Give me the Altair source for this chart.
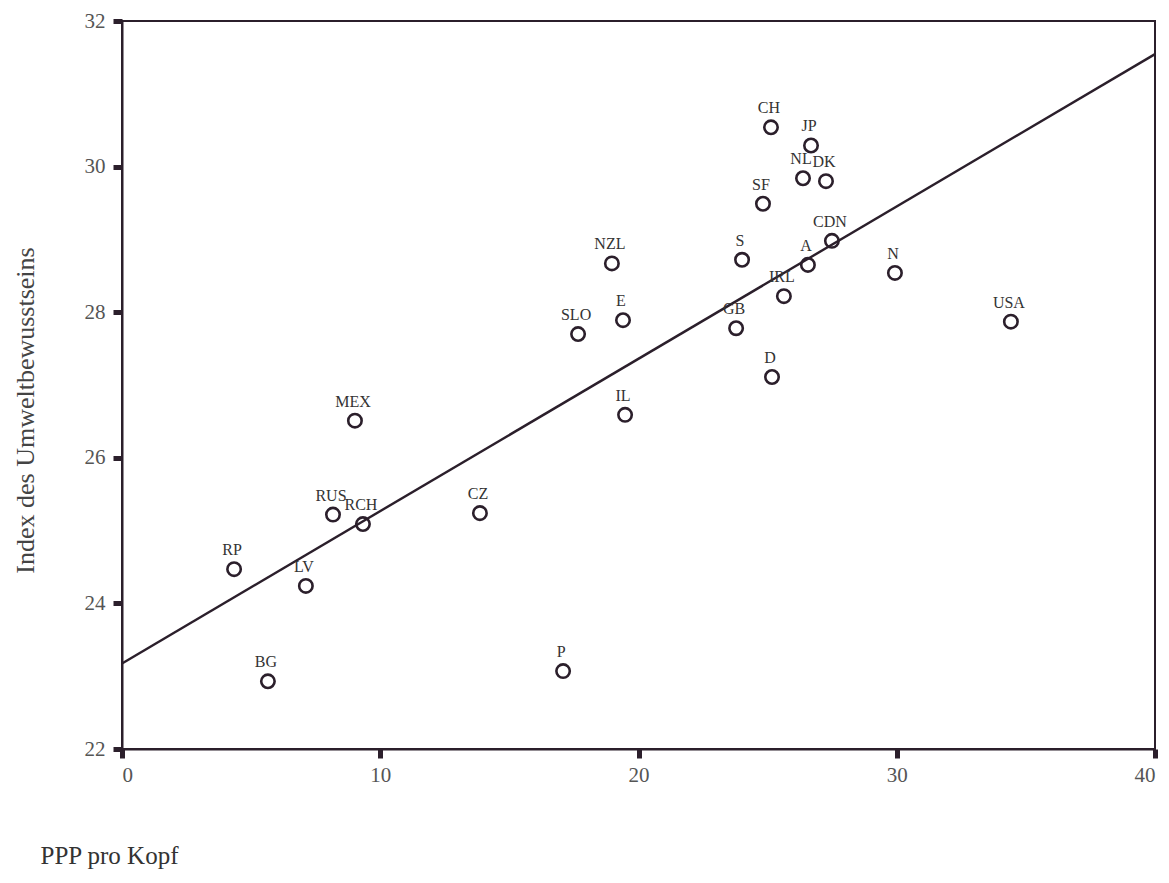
import altair as alt
import pandas as pd

countries = ["CH", "JP", "NL", "DK", "SF", "CDN", "S", "A", "N", "IRL", "USA",
             "NZL", "E", "SLO", "GB", "D", "IL", "MEX", "CZ", "RUS", "RCH",
             "RP", "LV", "BG", "P"]
ppp = [25.13, 26.68, 26.37, 27.26, 24.82, 27.49, 24.01, 26.56, 29.93, 25.63, 34.42,
       18.97, 19.40, 17.66, 23.78, 25.17, 19.48, 9.02, 13.86, 8.17, 9.33,
       4.34, 7.12, 5.65, 17.08]
index = [30.54, 30.29, 29.84, 29.80, 29.49, 28.98, 28.72, 28.65, 28.54, 28.22, 27.87,
         28.67, 27.89, 27.70, 27.78, 27.11, 26.59, 26.51, 25.24, 25.22, 25.09,
         24.47, 24.24, 22.93, 23.07]

df = pd.DataFrame({"land": countries, "ppp": ppp, "idx": index})

ink = "#2b1f2b"
serif = "Liberation Serif"

xs = alt.Scale(domain=[0, 40], nice=False)
ys = alt.Scale(domain=[22, 32], nice=False)

xaxis = alt.Axis(values=[0, 10, 20, 30, 40], format="d", grid=False, domainColor=ink, domainWidth=2,
                 tickColor=ink, tickWidth=5, tickSize=9, labelFont=serif, labelFontSize=21,
                 labelColor="#555555", labelPadding=6, title="PPP pro Kopf",
                 titleFont=serif, titleFontSize=25, titleFontWeight="normal", titleColor="#333333",
                 titleAnchor="start", titleAlign="left", titleBaseline="alphabetic",
                 titleX=-82, titleY=114)
yaxis = alt.Axis(values=[22, 24, 26, 28, 30, 32], format="d", grid=False, domainColor=ink, domainWidth=2,
                 tickColor=ink, tickWidth=5, tickSize=9, labelFont=serif, labelFontSize=21,
                 labelColor="#555555", labelPadding=8, title="Index des Umweltbewusstseins",
                 titleFont=serif, titleFontSize=26, titleFontWeight="normal", titleColor="#444444",
                 titleAngle=-90, titleAlign="center", titleBaseline="middle",
                 titleX=-97, titleY=389)

base = alt.Chart(df)

points = base.mark_point(shape="circle", filled=False, size=180, strokeWidth=2.6, color=ink, opacity=1).encode(
    x=alt.X("ppp:Q", scale=xs, axis=xaxis),
    y=alt.Y("idx:Q", scale=ys, axis=yaxis),
)

labels = base.mark_text(font=serif, fontSize=16, color="#333333", dy=-19, dx=-2, align="center",
                        baseline="middle").encode(
    x=alt.X("ppp:Q", scale=xs),
    y=alt.Y("idx:Q", scale=ys),
    text="land:N",
)

line = base.transform_regression("ppp", "idx", extent=[0, 40]).mark_line(
    color=ink, strokeWidth=2.4).encode(
    x=alt.X("ppp:Q", scale=xs),
    y=alt.Y("idx:Q", scale=ys),
)

chart = alt.layer(line, points, labels).properties(
    width=1033, height=728,
    autosize=alt.AutoSizeParams(type="none"),
    padding={"left": 114, "top": 13, "right": 6, "bottom": 120},
).configure_view(stroke=ink, strokeWidth=2)

chart.save("out.html", embed_options={"renderer": "svg", "actions": False})
